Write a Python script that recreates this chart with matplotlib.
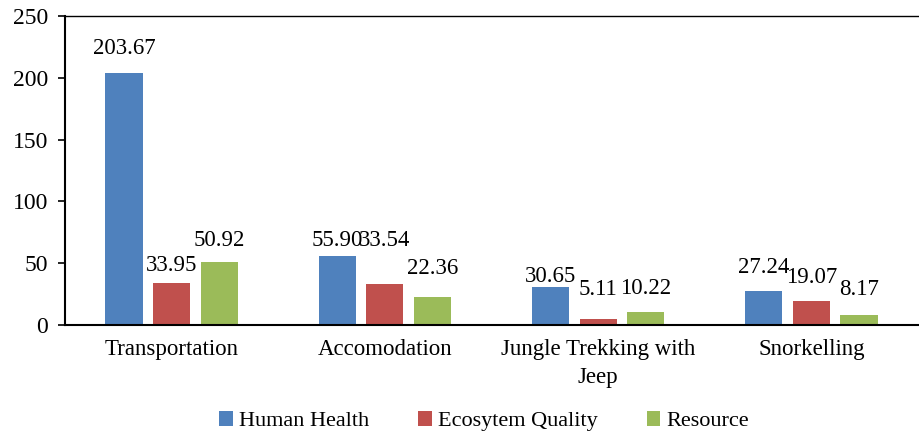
import matplotlib
matplotlib.use("Agg")
import matplotlib.pyplot as plt
import numpy as np

categories = ["Transportation", "Accomodation", "Jungle Trekking with\nJeep", "Snorkelling"]
series_names = ["Human Health", "Ecosytem Quality", "Resource"]
human_health = [203.67, 55.90, 30.65, 27.24]
ecosystem_quality = [33.95, 33.54, 5.11, 19.07]
resource = [50.92, 22.36, 10.22, 8.17]
yticks = [0, 50, 100, 150, 200, 250]

colors = ["#4F81BD", "#C0504D", "#9BBB59"]
# label lift above bar top, in pixels (label placement in the source is manual)
label_dy = [
    [25, 18, 22],
    [15, 43, 29],
    [11, 29, 24],
    [24, 24, 25],
]

plt.rcParams["font.family"] = ["Liberation Serif", "DejaVu Serif"]

fig = plt.figure(figsize=(9.19, 4.34), dpi=100)
ax = fig.add_axes([0.0707, 0.251, 0.9283, 0.712])

x = np.arange(len(categories))
step = 0.223
width = 0.174
all_series = [human_health, ecosystem_quality, resource]
for i, (vals, name, col) in enumerate(zip(all_series, series_names, colors)):
    pos = x + (i - 1) * step
    ax.bar(pos, vals, width=width, color=col, label=name, edgecolor="none")
    for j, (px, v) in enumerate(zip(pos, vals)):
        ax.annotate(f"{v:.2f}", (px, v), xytext=(0, label_dy[j][i] * 0.72),
                    textcoords="offset points", ha="center", va="center",
                    fontsize=16.5, color="black")

ax.set_xlim(-0.5, len(categories) - 0.5)
ax.set_ylim(0, 250)
ax.set_yticks(yticks)
ax.set_xticks(x)
ax.set_xticklabels(categories, fontsize=16.5, linespacing=1.45)
ax.tick_params(axis="y", labelsize=17, length=5, width=1.2, direction="out", pad=7)
ax.tick_params(axis="x", length=0, pad=10)

for s in ["left", "bottom", "top"]:
    ax.spines[s].set_linewidth(1.5)
    ax.spines[s].set_color("black")
ax.spines["top"].set_linewidth(1.0)
ax.spines["right"].set_visible(False)

fig.legend(loc="lower center", bbox_to_anchor=(0.527, -0.04), ncol=3, frameon=False,
           fontsize=16, handlelength=0.6, handleheight=0.6, handletextpad=0.3,
           columnspacing=2.2)

fig.savefig("out.png", dpi=100)
